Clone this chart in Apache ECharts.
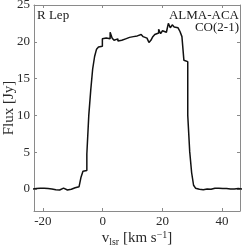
<!DOCTYPE html>
<html><head><meta charset="utf-8">
<script src="https://cdn.jsdelivr.net/npm/echarts@6/dist/echarts.min.js"></script>
<style>html,body{margin:0;padding:0;background:#fff}#c{width:242px;height:245px}</style>
</head><body><div id="c"></div>
<script>
// channel left edges (km/s)
const velocity = [-23.50,-22.85,-22.20,-21.55,-20.90,-20.25,-19.60,-18.95,-18.30,-17.65,
 -17.00,-16.35,-15.70,-15.05,-14.40,-13.75,-13.10,-12.45,-11.80,-11.15,
 -10.50,-9.85,-9.20,-8.55,-7.90,-7.25,-6.60,-5.95,-5.30,-4.65,
 -4.00,-3.35,-2.70,-2.05,-1.40,-0.75,-0.10,0.55,1.20,1.85,
 2.50,3.15,3.80,4.45,5.10,5.75,6.40,7.05,7.70,8.35,
 9.00,9.65,10.30,10.95,11.60,12.25,12.90,13.55,14.20,14.85,
 15.50,16.15,16.80,17.45,18.10,18.75,19.40,20.05,20.70,21.35,
 22.00,22.65,23.30,23.95,24.60,25.25,25.90,26.55,27.20,27.85,
 28.50,29.15,29.80,30.45,31.10,31.75,32.40,33.05,33.70,34.35,
 35.00,35.65,36.30,36.95,37.60,38.25,38.90,39.55,40.20,40.85,
 41.50,42.15,42.80,43.45,44.10,44.75,45.40,46.05,46.70];
// flux density per channel (Jy)
const flux = [0.00,0.05,0.00,0.10,0.05,0.10,0.00,0.05,-0.05,0.00,
 0.10,-0.10,0.00,-0.15,0.05,0.10,-0.05,-0.15,0.00,-0.05,
 0.10,0.15,0.20,0.30,0.50,1.60,2.40,2.50,4.75,10.00,
 13.40,16.30,18.00,19.00,19.30,19.40,20.40,20.50,20.30,20.40,
 21.30,20.50,20.20,20.40,20.10,20.20,20.30,20.40,20.60,20.60,
 20.70,20.70,20.80,20.80,21.00,21.00,20.90,20.70,20.50,20.30,
 19.90,20.20,20.70,21.00,21.20,21.70,21.10,21.50,21.30,21.40,
 22.50,21.90,22.30,22.00,21.90,21.70,21.40,20.70,17.50,17.30,
 10.00,5.10,2.20,0.50,0.10,-0.05,-0.10,-0.10,0.05,0.00,
 -0.10,-0.05,0.10,0.10,0.05,0.10,0.00,0.05,0.00,0.05,
 0.00,0.00,0.05,0.00,0.00,0.05,0.00,0.00,0.00];
const xTicks = [-20, 0, 20, 40];
const yTicks = [0, 5, 10, 15, 20, 25];
const xRange = [-23, 46];
const yRange = [-3, 25];

const font = '"Liberation Serif", "DejaVu Serif", serif';
const axisCol = '#8a8a8a';
const labelCol = '#2a2a2a';
const chart = echarts.init(document.getElementById('c'), null, {renderer: 'canvas'});
const base = {
  axisLine: {show: true, onZero: false, lineStyle: {color: axisCol, width: 1}},
  axisTick: {show: true, inside: true, length: 3, lineStyle: {color: axisCol}},
  splitLine: {show: false}
};
chart.setOption({
  animation: false,
  backgroundColor: '#fff',
  grid: {left: 34, right: 2, top: 5, bottom: 34, containLabel: false, outerBoundsMode: 'none'},
  xAxis: [
    Object.assign({}, base, {type: 'value', position: 'bottom', min: xRange[0], max: xRange[1],
      axisTick: Object.assign({}, base.axisTick, {customValues: xTicks}),
      axisLabel: {customValues: xTicks, color: labelCol, fontFamily: font, fontSize: 13, margin: 4},
      name: '{v|v}{sub|lsr}{v| [km s}{sup|−1}{v|]}', nameLocation: 'middle', nameGap: 19, nameMoveOverlap: false,
      nameTextStyle: {color: labelCol, fontFamily: font, fontSize: 15,
        rich: {v: {fontFamily: font, fontSize: 15, color: labelCol},
               sub: {fontFamily: font, fontSize: 10, color: labelCol, verticalAlign: 'bottom', padding: [7,0,0,0]},
               sup: {fontFamily: font, fontSize: 10, color: labelCol, verticalAlign: 'top', padding: [0,0,7,0]}}}}),
    Object.assign({}, base, {type: 'value', position: 'top', min: xRange[0], max: xRange[1],
      axisTick: Object.assign({}, base.axisTick, {customValues: xTicks}),
      axisLabel: {show: false}})
  ],
  yAxis: [
    Object.assign({}, base, {type: 'value', position: 'left', min: yRange[0], max: yRange[1],
      axisTick: Object.assign({}, base.axisTick, {customValues: yTicks}),
      axisLabel: {customValues: yTicks, color: labelCol, fontFamily: font, fontSize: 13, margin: 4},
      name: 'Flux [Jy]', nameLocation: 'middle', nameGap: 17, nameRotate: 90, nameMoveOverlap: false,
      nameTextStyle: {color: labelCol, fontFamily: font, fontSize: 15}}),
    Object.assign({}, base, {type: 'value', position: 'right', min: yRange[0], max: yRange[1],
      axisTick: Object.assign({}, base.axisTick, {customValues: yTicks}),
      axisLabel: {show: false}})
  ],
  graphic: [
    {type: 'text', left: 37, top: 9, style: {text: 'R Lep', font: '13px ' + font, fill: '#1a1a1a'}},
    {type: 'text', right: 3, top: 9, style: {text: 'ALMA-ACA', font: '13px ' + font, fill: '#1a1a1a', align: 'right'}},
    {type: 'text', right: 3, top: 21, style: {text: 'CO(2-1)', font: '13px ' + font, fill: '#1a1a1a', align: 'right'}}
  ],
  series: [{
    type: 'line', xAxisIndex: 0, yAxisIndex: 0, step: 'end', showSymbol: false, clip: true,
    lineStyle: {color: '#111', width: 1.5},
    data: velocity.map((v, i) => [v, flux[i]])
  }]
});
</script></body></html>
